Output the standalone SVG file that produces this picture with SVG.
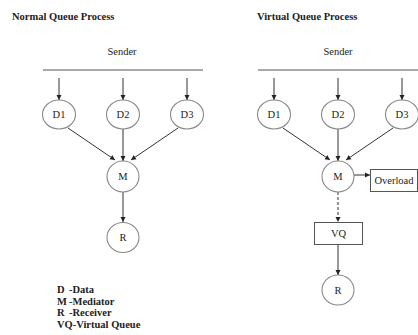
<svg xmlns="http://www.w3.org/2000/svg" width="418" height="335" viewBox="0 0 418 335">
<defs>
<style>
.t{font-family:"Liberation Serif",serif;fill:#222}
.b{font-weight:bold;font-size:10.5px}
.n{font-size:10.5px;text-anchor:middle}
.c{fill:#fff;stroke:#888;stroke-width:1.1}
.r{fill:#fff;stroke:#555;stroke-width:1}
.l{stroke:#333;stroke-width:1;fill:none}
.d{stroke-dasharray:3,2}
</style>
<marker id="a" markerWidth="6" markerHeight="6" refX="5" refY="3" orient="auto" markerUnits="userSpaceOnUse">
<path d="M0,0.5 L5,3 L0,5.5 Z" fill="#222"/>
</marker>
</defs>
<rect width="418" height="335" fill="#fff"/>
<text class="t b" x="12" y="20">Normal Queue  Process</text>
<text class="t b" x="257" y="20">Virtual Queue  Process</text>
<text class="t n" x="122" y="55">Sender</text>
<text class="t n" x="338" y="55">Sender</text>
<g id="connectors">
<line class="l" x1="43" y1="70" x2="203" y2="70" style="stroke:#555"/>
<line class="l" x1="258" y1="70" x2="418" y2="70" style="stroke:#555"/>
<line class="l" x1="59" y1="78" x2="59" y2="100" marker-end="url(#a)"/>
<line class="l" x1="123" y1="78" x2="123" y2="100" marker-end="url(#a)"/>
<line class="l" x1="187" y1="78" x2="187" y2="100" marker-end="url(#a)"/>
<line class="l" x1="68" y1="128" x2="115" y2="160" marker-end="url(#a)"/>
<line class="l" x1="123" y1="129" x2="123" y2="161" marker-end="url(#a)"/>
<line class="l" x1="178" y1="128" x2="131" y2="160" marker-end="url(#a)"/>
<line class="l" x1="123" y1="192" x2="123" y2="222" marker-end="url(#a)"/>
<line class="l" x1="274" y1="78" x2="274" y2="100" marker-end="url(#a)"/>
<line class="l" x1="338" y1="78" x2="338" y2="100" marker-end="url(#a)"/>
<line class="l" x1="402" y1="78" x2="402" y2="100" marker-end="url(#a)"/>
<line class="l" x1="283" y1="128" x2="330" y2="160" marker-end="url(#a)"/>
<line class="l" x1="338" y1="129" x2="338" y2="161" marker-end="url(#a)"/>
<line class="l" x1="393" y1="128" x2="346" y2="160" marker-end="url(#a)"/>
<line class="l" x1="354" y1="175" x2="370" y2="175" marker-end="url(#a)"/>
<line class="l d" x1="338" y1="192" x2="338" y2="222" marker-end="url(#a)"/>
<line class="l" x1="338" y1="244" x2="338" y2="275" marker-end="url(#a)"/>
</g>
<g id="nD1"><ellipse class="c" cx="59" cy="114.5" rx="16.5" ry="14.5"/><text class="t n" x="59" y="118">D1</text></g>
<g id="nD2"><ellipse class="c" cx="123" cy="114.5" rx="16.5" ry="14.5"/><text class="t n" x="123" y="118">D2</text></g>
<g id="nD3"><ellipse class="c" cx="187" cy="114.5" rx="16.5" ry="14.5"/><text class="t n" x="187" y="118">D3</text></g>
<g id="nM"><ellipse class="c" cx="123" cy="176.5" rx="16" ry="15.5"/><text class="t n" x="123" y="180">M</text></g>
<g id="nR"><ellipse class="c" cx="123" cy="237.5" rx="16" ry="15"/><text class="t n" x="123" y="241">R</text></g>
<g id="vD1"><ellipse class="c" cx="274" cy="114.5" rx="16.5" ry="14.5"/><text class="t n" x="274" y="118">D1</text></g>
<g id="vD2"><ellipse class="c" cx="338" cy="114.5" rx="16.5" ry="14.5"/><text class="t n" x="338" y="118">D2</text></g>
<g id="vD3"><ellipse class="c" cx="402" cy="114.5" rx="16.5" ry="14.5"/><text class="t n" x="402" y="118">D3</text></g>
<g id="vM"><ellipse class="c" cx="338" cy="176.5" rx="16" ry="15.5"/><text class="t n" x="338" y="180">M</text></g>
<g id="vOverload"><rect class="r" x="370.5" y="169.5" width="47" height="22"/><text class="t n" x="394" y="184">Overload</text></g>
<g id="vVQ"><rect class="r" x="314.5" y="222.5" width="48" height="22"/><text class="t n" x="338.5" y="237">VQ</text></g>
<g id="vR"><ellipse class="c" cx="338" cy="290" rx="16" ry="15"/><text class="t n" x="338" y="294">R</text></g>
<g id="legend" class="t b">
<text x="57" y="293">D</text><text x="69" y="293">-Data</text>
<text x="57" y="304.5">M</text><text x="69" y="304.5">-Mediator</text>
<text x="57" y="316">R</text><text x="69" y="316">-Receiver</text>
<text x="57" y="327.5">VQ-Virtual Queue</text>
</g>
</svg>
